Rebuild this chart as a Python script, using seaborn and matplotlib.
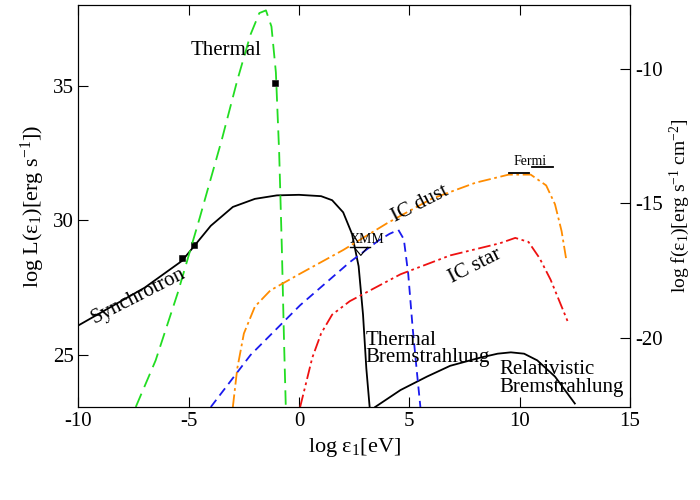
import matplotlib
matplotlib.use("Agg")
import matplotlib.pyplot as plt
import seaborn as sns

sync_x = [-10, -7, -5.3, -4, -3, -2, -1, 0, 1, 1.5, 2, 2.4, 2.7, 2.9, 3.05, 3.2]
sync_y = [26.1, 27.5, 28.5, 29.8, 30.5, 30.8, 30.93, 30.95, 30.9, 30.75, 30.3, 29.5, 28.3, 26.5, 24.5, 23.07]
rel_x = [3.45, 4.6, 5.8, 6.85, 8.2, 9.0, 9.6, 10.2, 10.8, 11.6, 12.5]
rel_y = [23.07, 23.7, 24.2, 24.6, 24.9, 25.05, 25.1, 25.05, 24.8, 24.2, 23.2]
th_x = [-7.4, -6.5, -5.5, -4.5, -3.5, -2.8, -2.2, -1.8, -1.5, -1.25, -1.05, -0.9, -0.78, -0.68, -0.6]
th_y = [23.07, 24.8, 27.3, 30.1, 33.0, 35.2, 36.9, 37.7, 37.8, 37.2, 35.5, 32.5, 29.0, 25.5, 23.07]
tb_x = [-4.0, -2.2, 0.05, 2.3, 3.6, 4.1, 4.5, 4.75, 4.95, 5.15, 5.35, 5.5]
tb_y = [23.07, 25.0, 26.85, 28.45, 29.25, 29.5, 29.65, 29.3, 28.0, 26.0, 24.3, 23.07]
icd_x = [-3.0, -2.8, -2.5, -2.0, -1.3, 0, 2, 4, 6, 8, 9.5, 10.5, 11.2, 11.6, 11.9, 12.1]
icd_y = [23.07, 24.5, 25.8, 26.8, 27.4, 28.0, 28.9, 29.9, 30.8, 31.4, 31.7, 31.7, 31.3, 30.6, 29.6, 28.6]
ics_x = [0.05, 0.3, 0.6, 1.0, 1.5, 2.3, 4.6, 6.85, 9.1, 9.8, 10.4, 10.9, 11.4, 11.8, 12.2]
ics_y = [23.07, 23.9, 24.9, 25.8, 26.5, 27.0, 28.0, 28.7, 29.15, 29.35, 29.2, 28.6, 27.8, 27.0, 26.2]
obs_x = [-5.3, -4.75, -1.1]
obs_y = [28.6, 29.1, 35.1]

plt.rcParams["font.family"] = "Liberation Serif"
plt.rcParams["mathtext.fontset"] = "custom"
plt.rcParams["mathtext.rm"] = "Liberation Serif"
plt.rcParams["mathtext.it"] = "Liberation Serif:italic"
plt.rcParams["axes.unicode_minus"] = False
fig = plt.figure(figsize=(7, 5), dpi=100)
ax = fig.add_axes([0.112, 0.186, 0.788, 0.804])

def line(x, y, **kw):
    sns.lineplot(x=x, y=y, ax=ax, sort=False, estimator=None, **kw)

line(sync_x, sync_y, color="black", lw=1.3)
line(rel_x, rel_y, color="black", lw=1.3)
line(th_x, th_y, color="#22dd22", lw=1.3, dashes=(8, 4))
line(tb_x, tb_y, color="#1a1aee", lw=1.3, dashes=(5, 3))
line(icd_x, icd_y, color="#ff8c00", lw=1.3, dashes=(7, 2, 1.5, 2))
line(ics_x, ics_y, color="#ee1111", lw=1.3, dashes=(7, 2, 1.5, 2, 1.5, 2))
sns.scatterplot(x=obs_x, y=obs_y, ax=ax, marker="s", color="black", s=25, edgecolor="black")
ax.plot([9.5, 10.4], [31.75, 31.75], color="black", lw=1.3)
ax.plot([10.55, 11.5], [31.98, 31.98], color="black", lw=1.3)
ax.plot([2.3, 3.2], [29.0, 29.0], color="black", lw=1)
ax.plot([2.5, 2.8, 3.1], [29.0, 28.7, 29.0], color="black", lw=0.8)

ax.set_xlim(-10, 15)
ax.set_ylim(23.07, 38)
ax.set_xticks([-10, -5, 0, 5, 10, 15])
ax.set_yticks([25, 30, 35])
ax.tick_params(direction="in", labelsize=15, length=7, top=True)
ax.set_xlabel("log ε$_1$[eV]", fontsize=16)
ax.set_ylabel("log L(ε$_1$)[erg s$^{-1}$])", fontsize=16)
ax2 = ax.twinx()
ax2.set_ylim(23.07 - 45.63, 38 - 45.63)
ax2.set_yticks([-10, -15, -20])
ax2.tick_params(direction="in", labelsize=15, length=7)
ax2.set_ylabel("log f(ε$_1$)[erg s$^{-1}$ cm$^{-2}$]", fontsize=14)

kw = dict(fontsize=15)
ax.text(-7.3, 27.2, "Synchrotron", rotation=27, ha="center", va="center", **kw)
ax.text(-3.3, 36.3, "Thermal", ha="center", va="center", **kw)
ax.text(5.5, 30.6, "IC dust", rotation=27, ha="center", va="center", **kw)
ax.text(8.0, 28.3, "IC star", rotation=27, ha="center", va="center", **kw)
ax.text(3.0, 25.55, "Thermal", ha="left", va="center", **kw)
ax.text(3.0, 24.9, "Bremstrahlung", ha="left", va="center", **kw)
ax.text(9.1, 24.45, "Relativistic", ha="left", va="center", **kw)
ax.text(9.1, 23.8, "Bremstrahlung", ha="left", va="center", **kw)
ax.text(2.3, 29.05, "XMM", ha="left", va="bottom", fontsize=10)
ax.text(9.7, 31.95, "Fermi", ha="left", va="bottom", fontsize=10)
fig.savefig("out.png", dpi=100)
